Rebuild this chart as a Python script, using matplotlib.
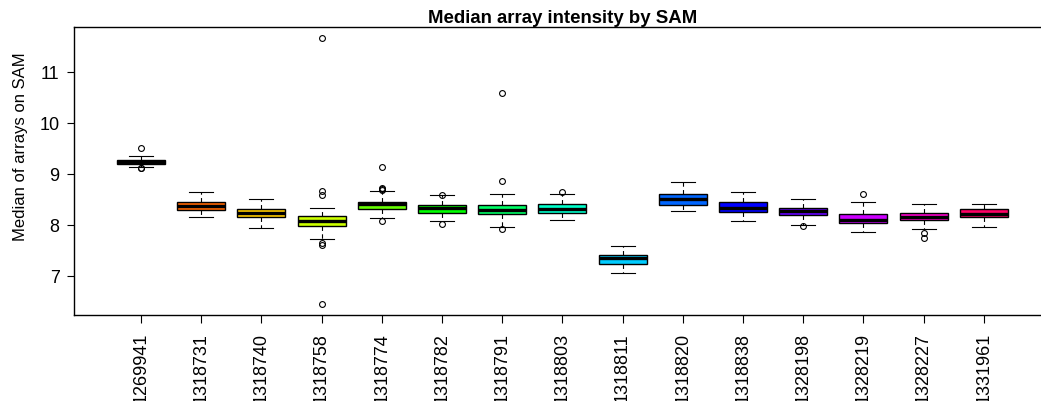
import matplotlib
matplotlib.use("Agg")
import matplotlib.pyplot as plt

plt.rcParams['font.family'] = ['Liberation Sans', 'DejaVu Sans']

# SAM identifiers along the x axis
sams = ["1269941", "1318731", "1318740", "1318758", "1318774", "1318782",
        "1318791", "1318803", "1318811", "1318820", "1318838", "1328198",
        "1328219", "1328227", "1331961"]

# five-number summaries per SAM
whis_lo = [9.15, 8.17, 7.95, 7.73, 8.15, 8.09, 7.96, 8.10, 7.06, 8.28, 8.08, 8.00, 7.86, 7.92, 7.96]
q1      = [9.21, 8.30, 8.16, 7.99, 8.31, 8.24, 8.22, 8.25, 7.25, 8.39, 8.26, 8.20, 8.05, 8.10, 8.16]
median  = [9.25, 8.38, 8.25, 8.08, 8.41, 8.33, 8.29, 8.32, 7.35, 8.52, 8.34, 8.28, 8.10, 8.17, 8.22]
q3      = [9.28, 8.46, 8.31, 8.18, 8.46, 8.39, 8.39, 8.41, 7.42, 8.61, 8.45, 8.33, 8.23, 8.24, 8.31]
whis_hi = [9.36, 8.65, 8.52, 8.33, 8.67, 8.59, 8.62, 8.61, 7.60, 8.85, 8.65, 8.52, 8.46, 8.42, 8.42]

# outlying arrays
outliers = [
    [9.52, 9.12, 9.13],
    [],
    [],
    [11.67, 8.67, 8.60, 7.65, 7.61, 6.45],
    [9.14, 8.74, 8.71, 8.70, 8.08],
    [8.59, 8.03],
    [10.59, 8.86, 7.93],
    [8.65],
    [],
    [],
    [],
    [7.99],
    [8.61],
    [7.84, 7.76],
    [],
]

# rainbow(15)
box_colors = ["#FF0000", "#FF6600", "#FFCC00", "#CCFF00", "#66FF00",
              "#00FF00", "#00FF66", "#00FFCC", "#00CCFF", "#0066FF",
              "#0000FF", "#6600FF", "#CC00FF", "#FF00CC", "#FF0066"]

stats = []
for i, name in enumerate(sams):
    stats.append(dict(label=name, med=median[i], q1=q1[i], q3=q3[i],
                      whislo=whis_lo[i], whishi=whis_hi[i], fliers=outliers[i]))

fig = plt.figure(figsize=(10.41, 4.01), dpi=100)
ax = fig.add_axes([0.0711, 0.2145, 0.9383, 0.7182])

positions = list(range(1, len(sams) + 1))
bp = ax.bxp(stats, positions=positions, widths=0.8, patch_artist=True,
            boxprops=dict(edgecolor="black", linewidth=1.0),
            medianprops=dict(color="black", linewidth=2.4, solid_capstyle="butt"),
            whiskerprops=dict(color="black", linewidth=0.8, linestyle=(0, (4, 3))),
            capprops=dict(color="black", linewidth=0.8),
            flierprops=dict(marker="o", markerfacecolor="none", markeredgecolor="black",
                            markersize=4.2, markeredgewidth=0.8, linestyle="none"),
            capwidths=0.4)
for patch, c in zip(bp["boxes"], box_colors):
    patch.set_facecolor(c)

ax.set_xlim(-0.113, 16.113)
ax.set_ylim(6.241, 11.888)
ax.set_yticks([7, 8, 9, 10, 11])
ax.set_xticks(positions)
ax.set_xticklabels(sams, rotation=90)

ax.tick_params(axis="y", length=5.4, width=0.8, labelsize=13, pad=5.0)
ax.tick_params(axis="x", length=5.8, width=0.8, labelsize=13, pad=7.2)
for side in ["left", "top", "bottom"]:
    ax.spines[side].set_linewidth(1.0)
ax.spines["right"].set_visible(False)

ax.set_ylabel("Median of arrays on SAM", fontsize=12)
ax.yaxis.label.set_va("center")
ax.yaxis.set_label_coords(-0.0543, 0.585)
ax.set_title("Median array intensity by SAM", fontsize=13.4, fontweight="bold", pad=0)

fig.savefig("out.png", dpi=100)
